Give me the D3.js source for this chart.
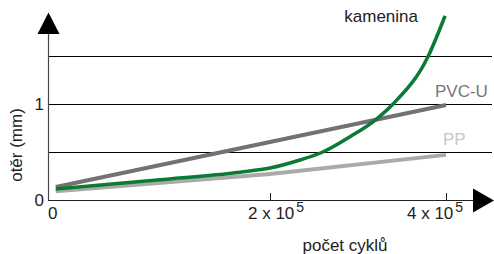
<!DOCTYPE html>
<html><head><meta charset="utf-8">
<script src="https://cdn.jsdelivr.net/npm/d3@7/dist/d3.min.js"></script>
<style>
html,body{margin:0;padding:0;background:#fff;}
svg{display:block;font-family:"Liberation Sans",Arial,Helvetica,sans-serif;}
</style></head>
<body>
<svg id="chart" width="494" height="254"></svg>
<script>
// ---- data ----
const xTicks = [200000, 400000];
const xTickMantissa = ["2", "4"];
const xTickExponent = ["5", "5"];
const yTicks = [0, 1];
const gridValues = [0.5, 1, 1.5];

const pvcX = [7000, 400000];
const pvcY = [0.135, 0.99];
const ppX = [7000, 200000, 400000];
const ppY = [0.09, 0.27, 0.47];
const kamX = [7000, 100900, 173000, 200000, 234000, 260000, 291000, 319600, 339800, 379500, 398900];
const kamY = [0.115, 0.21, 0.29, 0.333, 0.417, 0.5, 0.66, 0.833, 1.0, 1.493, 1.917];

const seriesLabels = ["kamenina", "PVC-U", "PP"];
const xTitle = "počet cyklů";
const yTitle = "otěr (mm)";

// ---- layout ----
const svg = d3.select("#chart");
const x = d3.scaleLinear().domain([0, 200000, 400000]).range([48, 270, 446]);
const y = d3.scaleLinear().domain([0, 1]).range([200, 104]);
const xEnd = 492;
const crisp = v => Math.round(v) + 0.5;

// grid
svg.append("g").selectAll("line").data(gridValues).join("line")
  .attr("x1", x(0)).attr("x2", xEnd)
  .attr("y1", d => crisp(y(d))).attr("y2", d => crisp(y(d)))
  .attr("stroke", "#000").attr("stroke-width", 1);

// axes
svg.append("line").attr("x1", crisp(x(0))).attr("x2", crisp(x(0))).attr("y1", y(0)).attr("y2", 30)
  .attr("stroke", "#444").attr("stroke-width", 1.2);
svg.append("path").attr("d", `M${x(0)+0.5},12.5 L${x(0)-10.5},34 L${x(0)+11.5},34 Z`).attr("fill", "#000");
svg.append("line").attr("x1", x(0)).attr("x2", 478).attr("y1", crisp(y(0))).attr("y2", crisp(y(0)))
  .attr("stroke", "#222").attr("stroke-width", 1.2);
svg.append("path").attr("d", `M494,${y(0)+0.5} L473,${y(0)-11.5} L473,${y(0)+12.5} Z`).attr("fill", "#000");

// x ticks
svg.append("g").selectAll("line").data(xTicks).join("line")
  .attr("x1", d => crisp(x(d))).attr("x2", d => crisp(x(d)))
  .attr("y1", y(0)).attr("y2", y(0) - 7)
  .attr("stroke", "#222").attr("stroke-width", 1);

const tickDx = [-22, -39];
const xl = svg.append("g").attr("font-size", 17).attr("fill", "#222");
xTicks.forEach((d, i) => {
  const t = xl.append("text").attr("x", x(d) + tickDx[i]).attr("y", 219);
  t.append("tspan").text(xTickMantissa[i] + " x 10");
  t.append("tspan").attr("font-size", 14).attr("dx", 2).attr("dy", -7).text(xTickExponent[i]);
});
xl.append("text").attr("x", x(0)).attr("y", 219).text("0");

// y tick labels
svg.append("g").attr("font-size", 17).attr("fill", "#222").selectAll("text").data(yTicks).join("text")
  .attr("x", 44).attr("y", d => y(d) + 6).attr("text-anchor", "end").text(d => d);

// titles
svg.append("text").attr("x", 345).attr("y", 251).attr("text-anchor", "middle")
  .attr("font-size", 17).attr("fill", "#222").text(xTitle);
svg.append("text").attr("transform", "translate(22,145) rotate(-90)").attr("text-anchor", "middle")
  .attr("font-size", 17).attr("fill", "#222").text(yTitle);

// lines
const line = d3.line().x(d => x(d[0])).y(d => y(d[1]));
const zipd = (a, b) => a.map((v, i) => [v, b[i]]);

svg.append("path").datum(zipd(ppX, ppY)).attr("d", line)
  .attr("fill", "none").attr("stroke", "#aaaaaa").attr("stroke-width", 4);
svg.append("path").datum(zipd(pvcX, pvcY)).attr("d", line)
  .attr("fill", "none").attr("stroke", "#727272").attr("stroke-width", 4);
svg.append("path").datum(zipd(kamX, kamY)).attr("d", line.curve(d3.curveMonotoneX))
  .attr("fill", "none").attr("stroke", "#0b7a35").attr("stroke-width", 3.5);

// series labels
svg.append("text").attr("x", 418).attr("y", 22).attr("text-anchor", "end")
  .attr("font-size", 17).attr("fill", "#222").text(seriesLabels[0]);
svg.append("text").attr("x", 435).attr("y", 97)
  .attr("font-size", 17).attr("fill", "#777").text(seriesLabels[1]);
svg.append("text").attr("x", 443).attr("y", 145)
  .attr("font-size", 17).attr("fill", "#c8c8c8").text(seriesLabels[2]);
</script>
</body></html>
